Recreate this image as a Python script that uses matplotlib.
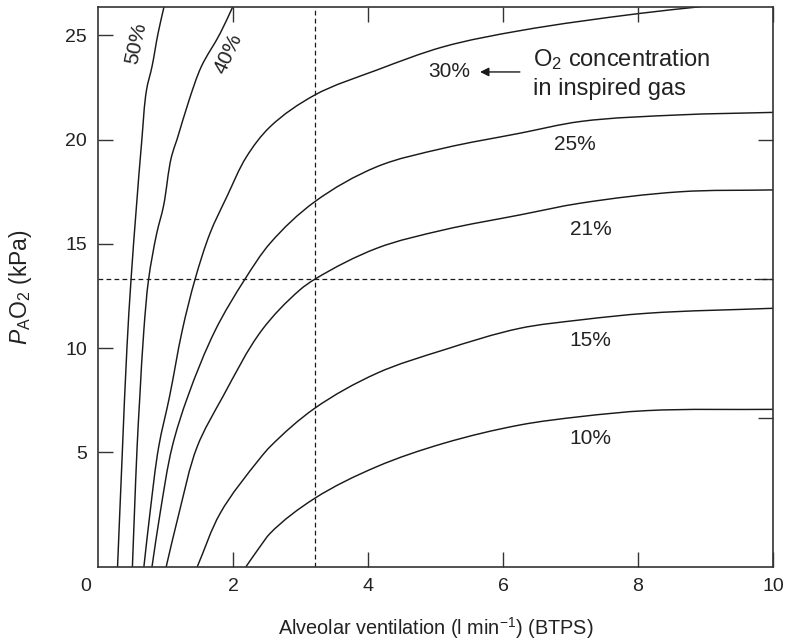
import matplotlib
matplotlib.use("Agg")
import matplotlib.pyplot as plt
import numpy as np
from matplotlib.path import Path
from matplotlib.patches import PathPatch

plt.rcParams['font.family'] = ['Liberation Sans', 'DejaVu Sans']
plt.rcParams['mathtext.fontset'] = 'custom'
plt.rcParams['mathtext.rm'] = 'Liberation Sans'
plt.rcParams['mathtext.it'] = 'Liberation Sans:italic'
plt.rcParams['mathtext.bf'] = 'Liberation Sans:bold'

# ---- data (alveolar ventilation l/min, PAO2 kPa) ----
x50 = [0.29, 0.36, 0.43, 0.49, 0.57, 0.65, 0.72, 0.80, 0.89, 0.98]
y50 = [-0.5, 4.95, 10.07, 13.3, 16.8, 20.0, 22.4, 23.5, 25.1, 26.4]

x40 = [0.51, 0.54, 0.58, 0.62, 0.68, 0.75, 0.87, 0.97, 1.09, 1.17, 1.35, 1.53, 1.81, 2.0]
y40 = [-0.5, 2.07, 5.27, 7.67, 10.87, 13.3, 15.5, 16.8, 19.2, 20.0, 21.9, 23.5, 25.1, 26.4]

x30 = [0.68, 0.77, 0.90, 1.06, 1.25, 1.44, 1.66, 1.91, 2.20, 2.55, 3.21, 4.13, 5.12, 6.25, 8.03, 8.92]
y30 = [-0.5, 2.07, 5.27, 7.67, 10.87, 13.32, 15.51, 17.27, 19.18, 20.62, 22.14, 23.34, 24.46, 25.23, 26.06, 26.38]

x25 = [0.80, 0.92, 1.10, 1.33, 1.74, 2.18, 2.55, 3.21, 4.13, 5.12, 6.25, 7.14, 8.62, 10.0]
y25 = [-0.5, 2.07, 5.27, 7.67, 10.87, 13.32, 15.03, 17.02, 18.70, 19.59, 20.31, 20.87, 21.19, 21.31]

x21 = [1.01, 1.20, 1.47, 1.85, 2.43, 2.99, 3.21, 4.13, 5.12, 6.25, 7.14, 8.62, 10.0]
y21 = [-0.5, 2.07, 5.27, 7.67, 10.87, 12.79, 13.3, 14.79, 15.67, 16.39, 16.95, 17.50, 17.59]

x15 = [1.47, 1.81, 2.4, 2.55, 3.21, 4.13, 5.12, 6.25, 7.14, 8.13, 10.0]
y15 = [-0.5, 2.07, 4.71, 5.27, 7.11, 8.79, 9.91, 10.95, 11.35, 11.67, 11.91]

x10 = [2.19, 2.4, 2.55, 3.21, 4.13, 5.12, 6.25, 7.14, 8.13, 10.0]
y10 = [-0.5, 0.47, 1.11, 2.79, 4.31, 5.43, 6.31, 6.71, 7.0, 7.06]

curves_x = [x50, x40, x30, x25, x21, x15, x10]
curves_y = [y50, y40, y30, y25, y21, y15, y10]

labels = ['50%', '40%', '30%', '25%', '21%', '15%', '10%']
label_x = [0.57, 1.93, 5.21, 7.06, 7.30, 7.30, 7.30]
label_y = [24.63, 24.15, 23.25, 19.78, 15.67, 10.36, 5.64]
label_rot = [78, 65, 0, 0, 0, 0, 0]

normal_va = 3.21      # l/min
normal_pao2 = 13.3    # kPa

x_ticks = [2, 4, 6, 8, 10]
y_ticks = [5, 10, 15, 20, 25]
mmhg_ticks = [50, 100, 150]
KPA_PER_MMHG = 0.13332


def smooth_path(xs, ys, sx=67.5, sy=20.84):
    """Cubic Bezier path passing through the read points (rendering only)."""
    P = np.column_stack([np.asarray(xs) * sx, np.asarray(ys) * sy])
    n = len(P)
    T = np.zeros_like(P)
    for i in range(n):
        if i == 0:
            d = P[1] - P[0]
        elif i == n - 1:
            d = P[-1] - P[-2]
        else:
            a = P[i] - P[i - 1]
            b = P[i + 1] - P[i]
            d = a / np.linalg.norm(a) + b / np.linalg.norm(b)
        T[i] = d / np.linalg.norm(d)
    verts = [P[0]]
    codes = [Path.MOVETO]
    for i in range(n - 1):
        L = np.linalg.norm(P[i + 1] - P[i]) / 3.0
        verts += [P[i] + T[i] * L, P[i + 1] - T[i + 1] * L, P[i + 1]]
        codes += [Path.CURVE4] * 3
    V = np.array(verts)
    V[:, 0] /= sx
    V[:, 1] /= sy
    return Path(V, codes)


# ---- figure ----
fig = plt.figure(figsize=(7.92, 6.4), dpi=100)
ax = fig.add_axes([0.1237, 0.1145, 0.8523, 0.875])
line_color = '#1a1a1a'

for xs, ys in zip(curves_x, curves_y):
    ax.add_patch(PathPatch(smooth_path(xs, ys), facecolor='none',
                           edgecolor=line_color, lw=1.05))

ax.axvline(normal_va, color=line_color, lw=0.9, dashes=(3.8, 2.6))
ax.axhline(normal_pao2, color=line_color, lw=0.9, dashes=(3.8, 2.6))

for t, lx, ly, r in zip(labels, label_x, label_y, label_rot):
    ax.text(lx, ly, t, fontsize=15, ha='center', va='center', rotation=r,
            rotation_mode='anchor', color='#222222')

# arrow + annotation
ax.annotate('', xy=(5.66, 23.25), xytext=(6.25, 23.25),
            arrowprops=dict(arrowstyle='-|>', color=line_color, lw=1.0,
                            mutation_scale=13, shrinkA=0, shrinkB=0))
ax.text(6.44, 23.85, r'O$_2$ concentration', fontsize=17, ha='left', va='center',
        color='#222222')
ax.text(6.44, 22.45, 'in inspired gas', fontsize=17, ha='left', va='center',
        color='#222222')

ax.set_xlim(0, 10)
ax.set_ylim(-0.49, 26.38)
ax.set_xticks(x_ticks)
ax.set_yticks(y_ticks)
ax.set_xticklabels([str(v) for v in x_ticks])
ax.set_yticklabels([str(v) for v in y_ticks])
ax.tick_params(axis='both', direction='in', length=11, width=1.0, colors='#333333',
               labelcolor='#222222', labelsize=14, pad=8)
ax.tick_params(axis='x', top=True)
ax.annotate('0', xy=(0, 0), xycoords='axes fraction', xytext=(-8.6, -14.6),
            textcoords='offset points', ha='center', va='center', fontsize=14,
            color='#222222')

sec = ax.secondary_yaxis('right', functions=(lambda k: k / KPA_PER_MMHG,
                                             lambda m: m * KPA_PER_MMHG))
sec.set_yticks(mmhg_ticks)
sec.set_yticklabels([])
sec.tick_params(direction='in', length=11, width=1.0, colors='#333333')
sec.spines['right'].set_visible(False)

for s in ax.spines.values():
    s.set_linewidth(1.2)
    s.set_color('#333333')

ax.set_xlabel(r'Alveolar ventilation (l min$^{-1}$) (BTPS)', fontsize=14.3,
              color='#222222')
ax.xaxis.set_label_coords(0.5, -0.086)
ax.set_ylabel(r'$P_{\mathrm{A}}$O$_2$ (kPa)', fontsize=16.5, color='#222222')
ax.yaxis.set_label_coords(-0.095, 0.5)

fig.savefig('out.png', dpi=100)
